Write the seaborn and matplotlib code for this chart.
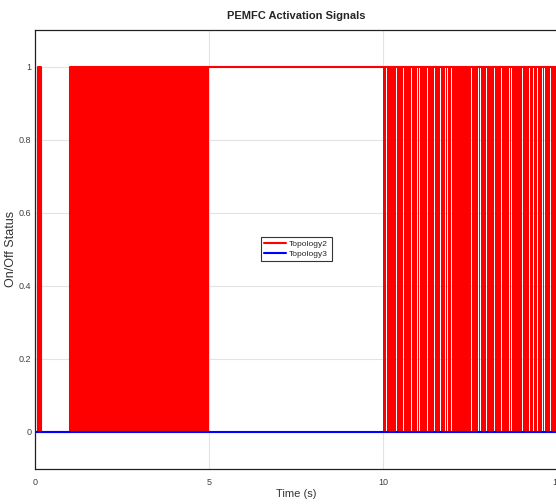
import pandas as pd
import matplotlib
matplotlib.use("Agg")
import matplotlib.pyplot as plt
import seaborn as sns

# Topology2 outline signal (step-post breakpoints)
t2 = [0.0, 0.06, 0.17, 1.0, 15.0]
y2 = [0, 1, 0, 1, 1]

# Topology3 stays off
t3 = [0.0, 15.0]
y3 = [0, 0]

# dense switching bursts of Topology2 (look solid at this scale)
burst_start = [0.06, 1.0, 10.0]
burst_end = [0.17, 5.0, 15.0]

# visible off-gaps inside the last burst
gap_times = [10.09, 10.22, 10.37, 10.42, 10.57, 10.80, 10.97, 11.03, 11.08, 11.14,
             11.26, 11.40, 11.47, 11.51, 11.64, 11.79, 11.85, 11.96, 12.12, 12.32,
             12.54, 12.73, 12.79, 12.86, 12.96, 13.15, 13.19, 13.39, 13.63, 13.69,
             13.78, 13.93, 13.99, 14.13, 14.20, 14.24, 14.32, 14.43, 14.58, 14.63,
             14.76, 14.80, 14.88]
gap_width = 0.018

xticks = [0, 5, 10, 15]
yticks = [0, 0.2, 0.4, 0.6, 0.8, 1]


def burst_fill(starts, ends, gaps, w):
    xs, ys = [0.0], [0]
    for s, e in zip(starts, ends):
        xs.append(s); ys.append(1)
        for g in gaps:
            if s < g < e:
                xs.append(g); ys.append(0)
                xs.append(g + w); ys.append(1)
        xs.append(e); ys.append(0)
    return xs, ys


sns.set_theme(style="white")
plt.rcParams["font.family"] = ["Liberation Sans", "DejaVu Sans"]

fig = plt.figure(figsize=(5.56, 5.04), dpi=100)
ax = fig.add_axes([0.0638, 0.0704, 0.938, 0.870])

ax.grid(True, color="#e3e3e3", linewidth=0.8)
ax.set_axisbelow(True)

fx, fy = burst_fill(burst_start, burst_end, gap_times, gap_width)
ax.fill_between(fx, 0, fy, step="post", color="red", linewidth=0)

df = pd.concat([
    pd.DataFrame({"Time": t2, "Status": y2, "Signal": "Topology2"}),
    pd.DataFrame({"Time": t3, "Status": y3, "Signal": "Topology3"}),
])
sns.lineplot(data=df, x="Time", y="Status", hue="Signal",
             palette={"Topology2": "red", "Topology3": "blue"},
             drawstyle="steps-post", estimator=None, sort=False,
             linewidth=1.5, ax=ax)

ax.set_xlim(0, 15)
ax.set_ylim(-0.1, 1.1)
ax.set_xticks(xticks)
ax.set_xticklabels([str(v) for v in xticks])
ax.set_yticks(yticks)
ax.set_yticklabels(["0", "0.2", "0.4", "0.6", "0.8", "1"])
ax.tick_params(direction="in", length=4, width=0.8, color="black",
               labelsize=6.5, labelcolor="#404040", pad=3)
ax.tick_params(axis="x", pad=7)

for s in ax.spines.values():
    s.set_color("#222222")
    s.set_linewidth(0.9)

ax.set_title("PEMFC Activation Signals", fontsize=8, fontweight="bold", pad=8)
ax.set_xlabel("Time (s)", fontsize=8, color="#333333", labelpad=1)
ax.set_ylabel("On/Off Status", fontsize=9, color="#333333", labelpad=1)

leg = ax.legend(loc="center", fontsize=6, frameon=True, fancybox=False,
                edgecolor="black", handlelength=2.6, borderpad=0.4,
                labelspacing=0.25, handletextpad=0.4)
leg.get_frame().set_linewidth(0.8)

fig.savefig("out.png", dpi=100)
